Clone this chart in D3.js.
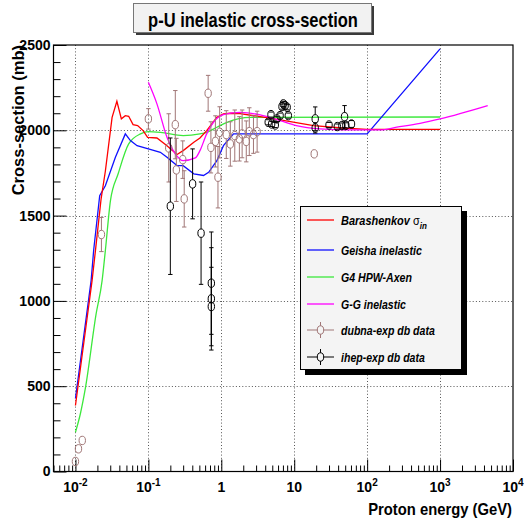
<!DOCTYPE html>
<html>
<head>
<meta charset="utf-8">
<script src="https://cdn.jsdelivr.net/npm/d3@7"></script>
<style>
  body { margin: 0; background: #fff; }
  svg { display: block; }
  text { font-family: "Liberation Sans", Arial, Helvetica, sans-serif; font-weight: bold; }
</style>
</head>
<body>
<svg id="chart" width="524" height="525"></svg>
<script>
// ---- model curves: proton energy (GeV) and inelastic cross-section (mb) ----
const barashenkovE = [0.01, 0.0169, 0.0188, 0.0225, 0.0257, 0.0318, 0.037, 0.0426, 0.0483, 0.0537, 0.0617, 0.0712, 0.0847, 0.0976, 0.131, 0.18, 0.247, 0.30, 0.42, 0.51, 0.63, 0.87, 1.07, 1.33, 1.8, 3.42, 6.43, 18.4, 50, 100, 1000];
const barashenkovS = [387, 1119, 1295, 1600, 1760, 2076, 2170, 2067, 2086, 2082, 2033, 2028, 1998, 1959, 1955, 1910, 1858, 1881, 1930, 1955, 1998, 2076, 2096, 2100, 2098, 2080, 2061, 2028, 2012, 2005, 2005];

const geishaE = [0.01, 0.0164, 0.0178, 0.0215, 0.0257, 0.0353, 0.0483, 0.0567, 0.07, 0.1, 0.146, 0.18, 0.247, 0.30, 0.42, 0.57, 0.67, 0.87, 1.07, 1.47, 100, 1000];
const geishaS = [428, 1119, 1300, 1617, 1675, 1842, 1979, 1940, 1910, 1891, 1871, 1842, 1793, 1793, 1745, 1735, 1754, 1822, 1910, 1979, 1979, 2477];

const hpwE = [0.01, 0.0117, 0.0137, 0.0192, 0.0232, 0.0257, 0.0302, 0.0385, 0.0537, 0.078, 0.1, 0.146, 0.30, 0.51, 0.63, 0.87, 1.2, 2.5, 1000];
const hpwS = [230, 340, 490, 924, 1119, 1295, 1588, 1745, 1920, 1979, 1992, 1988, 1969, 1979, 1988, 2018, 2047, 2076, 2078];

const ggE = [0.1, 0.131, 0.18, 0.234, 0.30, 0.44, 0.51, 0.63, 0.78, 1.07, 1.83, 3.42, 6.43, 10.7, 22.6, 52, 150, 255, 532, 1000, 4500];
const ggS = [2281, 2155, 1959, 1862, 1822, 1838, 1881, 1979, 2047, 2092, 2105, 2090, 2057, 2028, 2008, 2002, 2002, 2018, 2041, 2067, 2145];

// ---- measurements: energy (GeV), cross-section (mb), error (mb) ----
const dubnaE   = [0.01, 0.011, 0.0124, 0.0227, 0.1, 0.19, 0.234, 0.242, 0.296, 0.31, 0.66, 0.72, 0.83, 0.90, 0.95, 1.17, 1.33, 1.53, 1.77, 1.93, 2.2, 2.42, 2.76, 3.1, 18.8];
const dubnaS   = [59, 133, 182, 1389, 2067, 1897, 2033, 1768, 1828, 1598, 2217, 1900, 1935, 1725, 1988, 1975, 1920, 1969, 1950, 1979, 1935, 1992, 1975, 1992, 1862];
const dubnaErr = [0, 0, 0, 100, 60, 200, 200, 185, 110, 165, 105, 150, 150, 180, 150, 140, 130, 150, 130, 140, 120, 140, 110, 120, 0];

const ihepE   = [0.2, 0.404, 0.528, 0.73, 0.73, 0.73, 4.4, 4.8, 4.9, 5.5, 5.8, 6.4, 6.8, 7.1, 7.5, 8.0, 8.3, 19.4, 19.4, 30, 39, 45, 49, 51, 61];
const ihepS   = [1555, 1686, 1397, 1104, 1012, 967, 2047, 2092, 2037, 2031, 2067, 2086, 2139, 2155, 2145, 2135, 2086, 2067, 2014, 2031, 2022, 2028, 2080, 2029, 2037];
const ihepErr = [400, 205, 300, 300, 300, 230, 15, 15, 15, 15, 15, 15, 15, 15, 15, 15, 15, 70, 30, 15, 15, 15, 65, 15, 20];

// ---- axes ----
const xDomain = [0.005, 10000];
const yDomain = [0, 2500];
const xMajor = [0.01, 0.1, 1, 10, 100, 1000, 10000];
const xMajorBase = ["10", "10", "1", "10", "10", "10", "10"];
const xMajorExp  = ["-2", "-1", "", "", "2", "3", "4"];
const yMajor = [0, 500, 1000, 1500, 2000, 2500];

const title = "p-U inelastic cross-section";
const xTitle = "Proton energy (GeV)";
const yTitle = "Cross-section (mb)";

const legendLabels = ["Barashenkov", "Geisha inelastic", "G4 HPW-Axen", "G-G inelastic", "dubna-exp db data", "ihep-exp db data"];

const colors = { red: "#ff0000", blue: "#1010ff", green: "#3ce83c", magenta: "#ff00ff", dubna: "#a07676", ihep: "#000000" };

// ---- layout ----
const svg = d3.select("#chart");
const L = 53.5, R = 513, T = 45, B = 471.5;
const x = d3.scaleLog().domain(xDomain).range([L, R]);
const y = d3.scaleLinear().domain(yDomain).range([B, T]);

// squeeze a text horizontally (about its anchor point) to a target width
function condense(sel, ax, ay, width) {
  const w = sel.node().getComputedTextLength();
  const k = Math.min(1, width / w);
  sel.attr("transform", `translate(${ax},${ay}) scale(${k},1) translate(${-ax},${-ay})`);
}

// title box with shadow
svg.append("rect").attr("x", 136).attr("y", 6).attr("width", 238).attr("height", 29).attr("fill", "#3a3a3a");
svg.append("rect").attr("x", 133.5).attr("y", 3.5).attr("width", 238).attr("height", 29)
  .attr("fill", "#f2f2f2").attr("stroke", "#777").attr("stroke-width", 1);
const titleText = svg.append("text").attr("x", 253).attr("y", 27.5).attr("text-anchor", "middle")
  .attr("font-size", 19.5).text(title);
condense(titleText, 253, 27.5, 210);

// dotted grid
const grid = svg.append("g").attr("stroke", "#444").attr("stroke-width", 0.9).attr("stroke-dasharray", "1,2.2");
grid.selectAll("line.v").data(xMajor.filter(d => d < xDomain[1])).join("line")
  .attr("x1", d => Math.round(x(d)) + 0.5).attr("x2", d => Math.round(x(d)) + 0.5).attr("y1", T).attr("y2", B);
grid.selectAll("line.h").data(yMajor.filter(d => d > 0 && d < 2500)).join("line")
  .attr("x1", L).attr("x2", R).attr("y1", d => Math.round(y(d)) + 0.5).attr("y2", d => Math.round(y(d)) + 0.5);

// minor ticks
const xMinor = [];
for (let p = -3; p <= 3; p++) for (let k = 2; k <= 9; k++) {
  const v = k * Math.pow(10, p);
  if (v > xDomain[0] * 0.999 && v < xDomain[1]) xMinor.push(v);
}
const yMinor = d3.range(100, 2500, 100).filter(v => v % 500 !== 0);

const bottomAxis = d3.axisBottom(x).tickValues(xMajor).tickSize(-12).tickFormat("");
const gx = svg.append("g").attr("transform", `translate(0,${B})`).call(bottomAxis);
gx.select(".domain").remove();
gx.selectAll(".tick line").attr("stroke", "#000");
const gxm = svg.append("g").attr("transform", `translate(0,${B})`)
  .call(d3.axisBottom(x).tickValues(xMinor).tickSize(-6).tickFormat(""));
gxm.select(".domain").remove();

const leftAxis = d3.axisLeft(y).tickValues(yMajor).tickSize(-13).tickPadding(3).tickFormat(d3.format("d"));
const gy = svg.append("g").attr("transform", `translate(${L},0)`).call(leftAxis);
gy.select(".domain").remove();
gy.selectAll(".tick text").attr("font-size", 14).attr("font-family", "Liberation Sans, Arial, sans-serif")
  .attr("font-weight", "bold").attr("fill", "#000");
const gym = svg.append("g").attr("transform", `translate(${L},0)`)
  .call(d3.axisLeft(y).tickValues(yMinor).tickSize(-7).tickFormat(""));
gym.select(".domain").remove();

// x tick labels with exponents
const xl = svg.append("g");
xMajor.forEach((v, i) => {
  const t = xl.append("text").attr("x", x(v)).attr("y", 492).attr("text-anchor", "middle").attr("font-size", 14);
  t.append("tspan").text(xMajorBase[i]);
  if (xMajorExp[i]) t.append("tspan").attr("font-size", 10).attr("dy", -6).text(xMajorExp[i]);
});

// axis titles
const xt = svg.append("text").attr("x", 512).attr("y", 515).attr("text-anchor", "end").attr("font-size", 16.5).text(xTitle);
condense(xt, 512, 515, 144);
const yt = svg.append("g").attr("transform", "translate(24,45) rotate(-90)")
  .append("text").attr("x", 0).attr("y", 0).attr("text-anchor", "end").attr("font-size", 16.5).text(yTitle);
condense(yt, 0, 0, 178);

// plot clip
svg.append("clipPath").attr("id", "plotclip").append("rect").attr("x", L).attr("y", T).attr("width", R - L).attr("height", B - T);
const plot = svg.append("g").attr("clip-path", "url(#plotclip)");

// model curves
const lineLin = d3.line().x(d => x(d[0])).y(d => y(d[1]));
const lineSmooth = d3.line().x(d => x(d[0])).y(d => y(d[1])).curve(d3.curveMonotoneX);
const curves = [
  { e: hpwE, s: hpwS, c: colors.green, gen: lineSmooth },
  { e: geishaE, s: geishaS, c: colors.blue, gen: lineLin },
  { e: barashenkovE, s: barashenkovS, c: colors.red, gen: lineLin },
  { e: ggE, s: ggS, c: colors.magenta, gen: lineSmooth }
];
curves.forEach(cv => {
  plot.append("path").datum(cv.e.map((v, i) => [v, cv.s[i]]))
    .attr("fill", "none").attr("stroke", cv.c).attr("stroke-width", 1.3).attr("d", cv.gen);
});

// measured points with error bars
const rx = 3.2, ry = 4.2, cap = 2.2;
function drawPoints(E, S, Err, color) {
  const g = plot.append("g").attr("stroke", color).attr("fill", "none").attr("stroke-width", 1);
  E.forEach((v, i) => {
    const cx = x(v), cy = y(S[i]);
    if (Err[i] > 0) {
      const yt = y(S[i] + Err[i]), yb = y(S[i] - Err[i]);
      if (cy - ry > yt) g.append("line").attr("x1", cx).attr("x2", cx).attr("y1", yt).attr("y2", cy - ry);
      if (cy + ry < yb) g.append("line").attr("x1", cx).attr("x2", cx).attr("y1", cy + ry).attr("y2", yb);
      g.append("line").attr("x1", cx - cap).attr("x2", cx + cap).attr("y1", yt).attr("y2", yt);
      g.append("line").attr("x1", cx - cap).attr("x2", cx + cap).attr("y1", yb).attr("y2", yb);
    }
    g.append("ellipse").attr("cx", cx).attr("cy", cy).attr("rx", rx).attr("ry", ry);
  });
}
drawPoints(dubnaE, dubnaS, dubnaErr, colors.dubna);
drawPoints(ihepE, ihepS, ihepErr, colors.ihep);

// frame
svg.append("rect").attr("x", L).attr("y", T).attr("width", R - L).attr("height", B - T)
  .attr("fill", "none").attr("stroke", "#000").attr("stroke-width", 1.2);

// legend
const legendStyle = [
  { color: colors.red, kind: "line", sub: "in", w: 86 },
  { color: colors.blue, kind: "line", w: 81 },
  { color: colors.green, kind: "line", w: 71 },
  { color: colors.magenta, kind: "line", w: 65 },
  { color: colors.dubna, kind: "point", w: 94 },
  { color: colors.ihep, kind: "point", w: 84 }
];
const legendRows = [220, 250, 277, 304, 330, 357];
const lg = svg.append("g");
lg.append("rect").attr("x", 305).attr("y", 211).attr("width", 162).attr("height", 164).attr("fill", "#000");
lg.append("rect").attr("x", 300.5).attr("y", 206.5).attr("width", 161).attr("height", 163)
  .attr("fill", "#f4f4f4").attr("stroke", "#000").attr("stroke-width", 1);
legendLabels.forEach((label, i) => {
  const st = legendStyle[i];
  const cy = legendRows[i];
  lg.append("line").attr("x1", 307).attr("x2", 334).attr("y1", cy).attr("y2", cy)
    .attr("stroke", st.color).attr("stroke-width", st.kind === "line" ? 1.3 : 1);
  if (st.kind === "point") {
    lg.append("line").attr("x1", 320.5).attr("x2", 320.5).attr("y1", cy - 8).attr("y2", cy + 8)
      .attr("stroke", st.color).attr("stroke-width", 1);
    lg.append("ellipse").attr("cx", 320.5).attr("cy", cy).attr("rx", rx).attr("ry", ry)
      .attr("fill", "#f4f4f4").attr("stroke", st.color).attr("stroke-width", 1);
  }
  const t = lg.append("text").attr("x", 341).attr("y", cy + 5).attr("font-size", 13).attr("font-style", "italic");
  t.append("tspan").text(label);
  if (st.sub) {
    t.append("tspan").attr("font-weight", "normal").attr("font-style", "normal").text(" σ");
    t.append("tspan").attr("font-size", 9.5).attr("dy", 4).text(st.sub);
  }
  condense(t, 341, cy + 5, st.w);
});
</script>
</body>
</html>
